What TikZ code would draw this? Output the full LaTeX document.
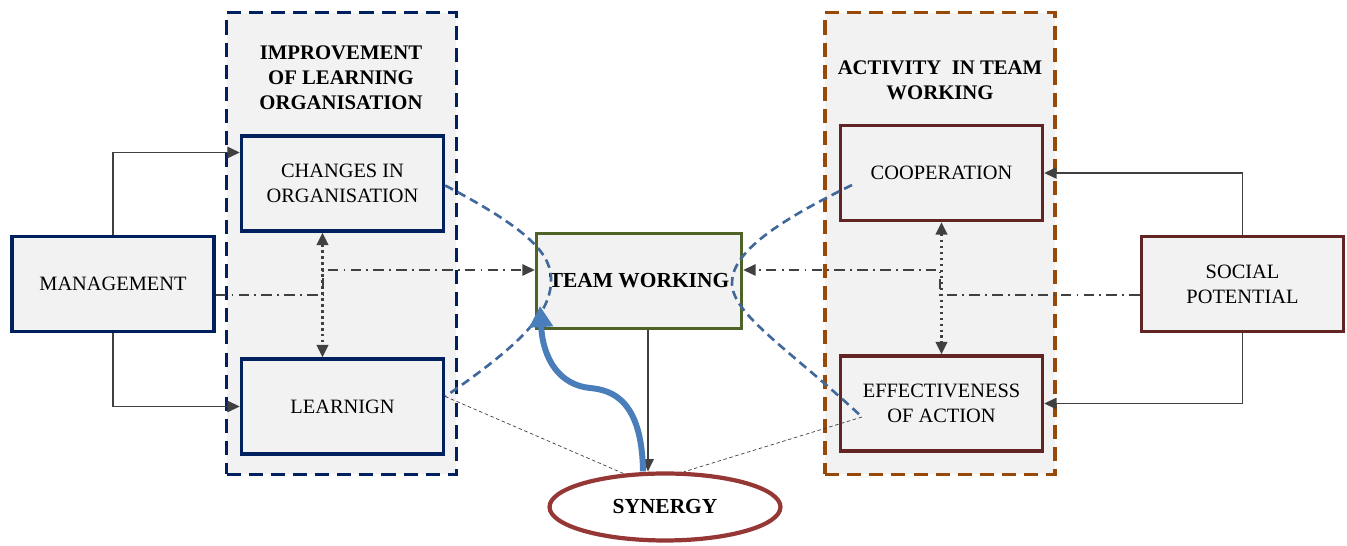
\documentclass[tikz,border=0pt]{standalone}
\usepackage{fontspec}
\setmainfont{Liberation Serif}
\usetikzlibrary{positioning,calc,shapes,arrows.meta}
\definecolor{navy}{HTML}{002060}
\definecolor{grpbg}{HTML}{F2F2F2}
\definecolor{rust}{HTML}{984807}
\definecolor{wine}{HTML}{632523}
\definecolor{olive}{HTML}{4F6228}
\definecolor{brick}{HTML}{953735}
\definecolor{steel}{HTML}{41689A}
\definecolor{sky}{HTML}{4A7EBB}
\definecolor{ink}{HTML}{404040}

\begin{document}
\begin{tikzpicture}[x=0.02cm,y=-0.02cm,>={Triangle[length=7pt,width=6.5pt]},
            font=\fontsize{11.6}{14.2}\selectfont]
            \tikzstyle{box}=[draw, line width=2pt, fill=grpbg, align=center,
            minimum width=4.04cm, minimum height=1.9cm, inner sep=2pt]
            \tikzstyle{grp}=[draw, line width=2.2pt, fill=grpbg,
            dash pattern=on 8pt off 4.6pt, minimum width=4.6cm, minimum height=9.24cm]
            \tikzstyle{title}=[font=\fontsize{11.8}{14.2}\selectfont\bfseries, align=center]
            \tikzstyle{link}=[ink, line width=0.7pt]
            \tikzstyle{dashdot}=[ink, line width=0.7pt, dash pattern=on 6pt off 3pt on 1pt off 3pt]
            \tikzstyle{pair}=[ink, line width=1.4pt, dotted, <->]
            \tikzstyle{hint}=[ink, line width=0.4pt, dash pattern=on 2pt off 1.5pt]
            \tikzstyle{bow}=[steel, line width=1.5pt, dash pattern=on 5pt off 3pt]
            \useasboundingbox (0,0) rectangle (1347,546);
            %  MGMT   [ CHANGES ]              [ COOP ]    SOCIAL
            %         [ LEARNIGN ]  TEAM       [ EFFECT ]
            %                     SYNERGY
            \node[grp, draw=navy] (lgrp) at (341.5,243.5) {};
            \node[grp, draw=rust] (rgrp) at (940,243.5) {};
            \node[title] (ltitle) at (341,78) {IMPROVEMENT\\OF LEARNING\\ORGANISATION};
            \node[title] (rtitle) at (940,80) {ACTIVITY~ IN TEAM\\WORKING};

            \node[box, draw=navy] (mgmt) at (113,284) {MANAGEMENT};
            \node[box, draw=navy] (chg) at (342.5,183.5) {CHANGES IN\\ORGANISATION};
            \node[box, draw=navy] (lrn) at (342.5,406.5) {LEARNIGN};
            \node[box, draw=olive, minimum width=4.1cm, font=\fontsize{12.2}{14}\selectfont\bfseries] (team) at (639,281) {TEAM WORKING};
            \node[box, draw=wine] (coop) at (941.5,173) {COOPERATION};
            \node[box, draw=wine] (eff) at (941.5,403.5) {EFFECTIVENESS\\OF ACTION};
            \node[box, draw=wine] (soc) at (1242.5,284) {SOCIAL\\POTENTIAL};
            \node[ellipse, draw=brick, line width=2.4pt, fill=white, minimum width=4.62cm,
            minimum height=1.34cm, inner sep=0pt, font=\fontsize{12.2}{14}\selectfont\bfseries] (syn) at (665,507) {SYNERGY};

            \coordinate (cpin) at (852,185);
            \coordinate (efin) at (862,417);

            \draw[link,->] (mgmt.north) |- ($(chg.west)+(0,-31)$);
            \draw[link,->] (mgmt.south) |- (lrn.west);
            \draw[link,->] (soc.north) |- (coop.east);
            \draw[link,->] (soc.south) |- (eff.east);

            \draw[dashdot,->] ($(mgmt.east)+(0,11)$) -- (323,295) -- (323,270) -- ($(team.west)+(0,-11)$);
            \draw[dashdot,->] ($(soc.west)+(0,11)$) -- (940,295) -- (940,270) -- ($(team.east)+(0,-11)$);
            \draw[pair] ($(chg.south)+(-20,0)$) -- ($(lrn.north)+(-20,0)$);
            \draw[pair] (coop.south) -- (eff.north);

            \draw[hint] ($(lrn.east)+(0,-10)$) -- (syn.141);
            \draw[hint] (efin) -- (syn.62);

            \draw[bow] ($(chg.east)+(0,2)$) .. controls (530,230) and (553,255) .. (551,283)
                  .. controls (549,315) and (520,345) .. ($(lrn.east)+(0,-10)$);
            \draw[bow] (cpin) .. controls (770,225) and (731,255) .. (732,284)
                  .. controls (733,315) and (790,350) .. (efin);

            \draw[link,->, line width=1pt] ($(team.south)+(9,0)$) -- ($(syn.north)+(-17,0)$);
            \draw[sky, line width=3.4pt, -{Triangle[length=12pt,width=13pt]}]
                  ($(syn.north)+(-22,0)$) .. controls (642,400) and (612,390) .. (590,388)
                  .. controls (560,385) and (543,360) .. (540,306);
\end{tikzpicture}
\end{document}
